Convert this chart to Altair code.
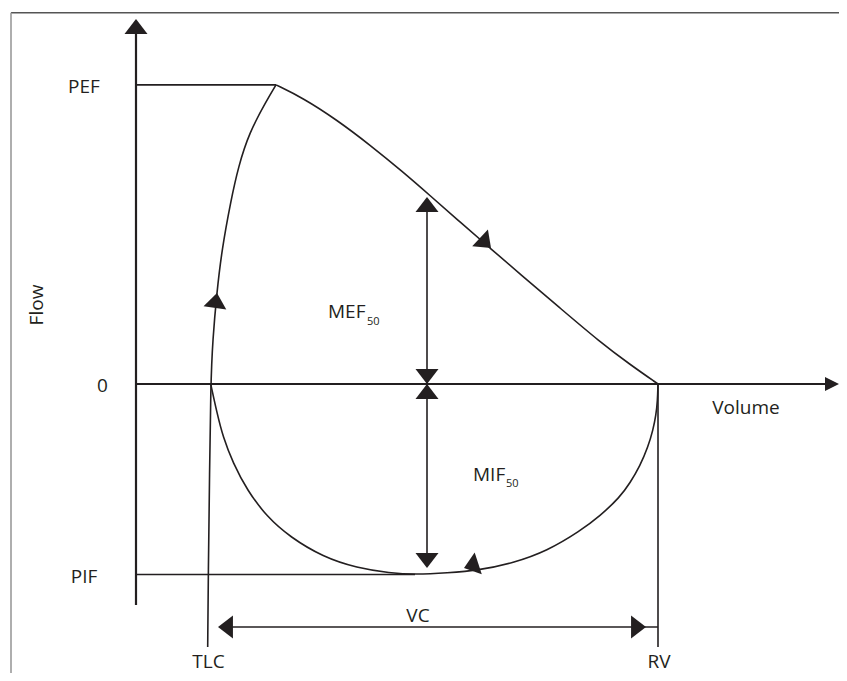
import altair as alt
import pandas as pd

INK = "#231f20"
FONT = "Open Sans"

# ---- key values (volume expired in L from TLC, flow in L/s) ----
TLC, RV = 0.0, 4.49
PEF, PIF = 9.97, -6.35
V_AXIS = -0.73          # where the flow axis stands
V50 = 2.18              # half of vital capacity
MEF50, MIF50 = 6.23, -6.13
VC_F = -8.1             # height of the VC dimension arrow
FOOT = -8.77            # bottom of the TLC / RV drop lines

# expiration, rising limb (TLC -> PEF)
rise_v = [-0.013, -0.007, 0.005, 0.017, 0.037, 0.078, 0.128, 0.22, 0.293, 0.40, 0.58, 0.67]
rise_f = [-8.77, -6.3, -3.2, 0.0, 1.467, 3.033, 4.467, 6.133, 7.233, 8.367, 9.467, 9.97]

# expiration, falling limb (PEF -> RV)
fall_v = [0.67, 0.94, 1.28, 1.61, 1.94, 2.21, 2.51, 2.81, 3.11, 3.51, 3.91, 4.21, 4.49]
fall_f = [9.97, 9.533, 8.8, 7.967, 7.067, 6.283, 5.4, 4.533, 3.667, 2.533, 1.4, 0.65, 0.0]

# inspiration (RV -> TLC)
insp_v = [0.017, 0.08, 0.14, 0.24, 0.38, 0.58, 0.81, 1.14, 1.48, 1.81, 2.06, 2.38, 2.71,
          3.04, 3.38, 3.71, 3.91, 4.11, 4.21, 4.31, 4.39, 4.44, 4.47, 4.485, 4.49]
insp_f = [0.0, -0.967, -1.767, -2.633, -3.533, -4.433, -5.1, -5.767, -6.133, -6.3, -6.35, -6.3, -6.2,
          -5.967, -5.567, -4.9, -4.4, -3.767, -3.3, -2.733, -2.1, -1.533, -1.033, -0.567, 0.0]

# thin straight segments: PEF, PIF, RV drop, VC, MEF50, MIF50
seg_v1 = [V_AXIS, V_AXIS, RV, 0.22, V50, V50]
seg_f1 = [PEF, PIF, 0.0, VC_F, 0.0, 0.0]
seg_v2 = [0.67, 2.06, RV, RV, V50, V50]
seg_f2 = [PEF, PIF, FOOT, VC_F, MEF50 - 0.2, MIF50 + 0.2]

# axes
ax_v1 = [V_AXIS, V_AXIS]
ax_f1 = [-7.37, 0.0]
ax_v2 = [V_AXIS, 6.17]
ax_f2 = [11.7, 0.0]

# arrowheads (tip position, direction in degrees clockwise from up)
head_v = [V_AXIS, V50, V50, V50, V50, 0.09, 4.37, 0.08, 2.82, 2.55]
head_f = [12.167, MEF50, 0.0, 0.0, MIF50, VC_F, VC_F, 3.033, 4.533, -6.133]
head_angle = [0, 0, 180, 0, 180, 270, 90, 8, 133, 252]

# volume-axis arrowhead
vol_head_v = [6.30]
vol_head_f = [0.0]
vol_head_angle = [90]

# frame
frame_v1 = [-1.98, -1.98]
frame_f1 = [12.377, 12.377]
frame_v2 = [6.30, -1.98]
frame_f2 = [12.377, -9.64]
frame_col = ["#555555", "#9a9a9a"]

# labels
lab_text = ["PEF", "0", "PIF", "Volume", "TLC", "RV", "VC"]
lab_v = [-1.25, -1.065, -1.25, 5.37, -0.005, 4.5, 2.09]
lab_f = [9.7, -0.267, -6.633, -1.0, -9.45, -9.45, -7.92]

sub_main = ["MEF", "MIF"]
sub_main_v = [1.19, 2.64]
sub_main_f = [2.19, -3.223]
sub_idx = ["50", "50"]
sub_idx_v = [1.58, 2.97]
sub_idx_f = [1.967, -3.423]

flow_label = ["Flow"]
flow_v = [-1.663]
flow_f = [2.633]

# ---- tables ----
curve_df = pd.concat([
    pd.DataFrame({"v": rise_v, "f": rise_f, "branch": "rise"}),
    pd.DataFrame({"v": fall_v, "f": fall_f, "branch": "fall"}),
    pd.DataFrame({"v": insp_v, "f": insp_f, "branch": "insp"}),
], ignore_index=True)
seg_df = pd.DataFrame({"v": seg_v1, "f": seg_f1, "v2": seg_v2, "f2": seg_f2})
ax_df = pd.DataFrame({"v": ax_v1, "f": ax_f1, "v2": ax_v2, "f2": ax_f2})
head_df = pd.DataFrame({"v": head_v, "f": head_f, "angle": head_angle})
vol_head_df = pd.DataFrame({"v": vol_head_v, "f": vol_head_f, "angle": vol_head_angle})
frame_df = pd.DataFrame({"v": frame_v1, "f": frame_f1, "v2": frame_v2, "f2": frame_f2, "col": frame_col})
lab_df = pd.DataFrame({"t": lab_text, "v": lab_v, "f": lab_f})
main_df = pd.DataFrame({"t": sub_main, "v": sub_main_v, "f": sub_main_f})
idx_df = pd.DataFrame({"t": sub_idx, "v": sub_idx_v, "f": sub_idx_f})
flow_df = pd.DataFrame({"t": flow_label, "v": flow_v, "f": flow_f})

# 100 px per litre, 30 px per L/s
XS = alt.Scale(domain=[-2.01, 6.30], nice=False, zero=False)
YS = alt.Scale(domain=[-9.633, 12.533], nice=False, zero=False)


def X(field):
    return alt.X(field, type="quantitative", scale=XS, axis=None)


def Y(field):
    return alt.Y(field, type="quantitative", scale=YS, axis=None)


HEAD = "M0,0L1,1.3L-1,1.3Z"
SMALL_HEAD = "M0,0L1,2L-1,2Z"

frame = alt.Chart(frame_df).mark_rule(strokeWidth=1.6).encode(
    x=X("v"), y=Y("f"), x2="v2", y2="f2", color=alt.Color("col:N", scale=None))

axes = alt.Chart(ax_df).mark_rule(color=INK, strokeWidth=2.2).encode(
    x=X("v"), y=Y("f"), x2="v2", y2="f2")

segs = alt.Chart(seg_df).mark_rule(color=INK, strokeWidth=1.6).encode(
    x=X("v"), y=Y("f"), x2="v2", y2="f2")

curves = alt.Chart(curve_df).mark_line(color=INK, strokeWidth=1.6, interpolate="basis").encode(
    x=X("v"), y=Y("f"), detail="branch:N")

heads = alt.Chart(head_df).mark_point(
    shape=HEAD, filled=True, fill=INK, strokeWidth=0, size=529, opacity=1).encode(
    x=X("v"), y=Y("f"), angle=alt.Angle("angle:Q", scale=None))

vol_head = alt.Chart(vol_head_df).mark_point(
    shape=SMALL_HEAD, filled=True, fill=INK, strokeWidth=0, size=196, opacity=1).encode(
    x=X("v"), y=Y("f"), angle=alt.Angle("angle:Q", scale=None))

labels = alt.Chart(lab_df).mark_text(
    font=FONT, fontSize=19, color=INK, align="center", baseline="alphabetic").encode(
    x=X("v"), y=Y("f"), text="t:N")

mains = alt.Chart(main_df).mark_text(
    font=FONT, fontSize=19, color=INK, align="left", baseline="alphabetic").encode(
    x=X("v"), y=Y("f"), text="t:N")

idxs = alt.Chart(idx_df).mark_text(
    font=FONT, fontSize=11, color=INK, align="left", baseline="alphabetic").encode(
    x=X("v"), y=Y("f"), text="t:N")

flow = alt.Chart(flow_df).mark_text(
    font=FONT, fontSize=19, color=INK, align="center", baseline="alphabetic", angle=270).encode(
    x=X("v"), y=Y("f"), text="t:N")

chart = alt.layer(
    frame, axes, segs, curves, heads, vol_head, labels, mains, idxs, flow
).properties(
    width=831, height=665, padding=0,
    autosize=alt.AutoSizeParams(type="none"),
    background="white",
).configure_view(stroke=None)

chart.save("out.html", embed_options={"renderer": "svg", "actions": False})
